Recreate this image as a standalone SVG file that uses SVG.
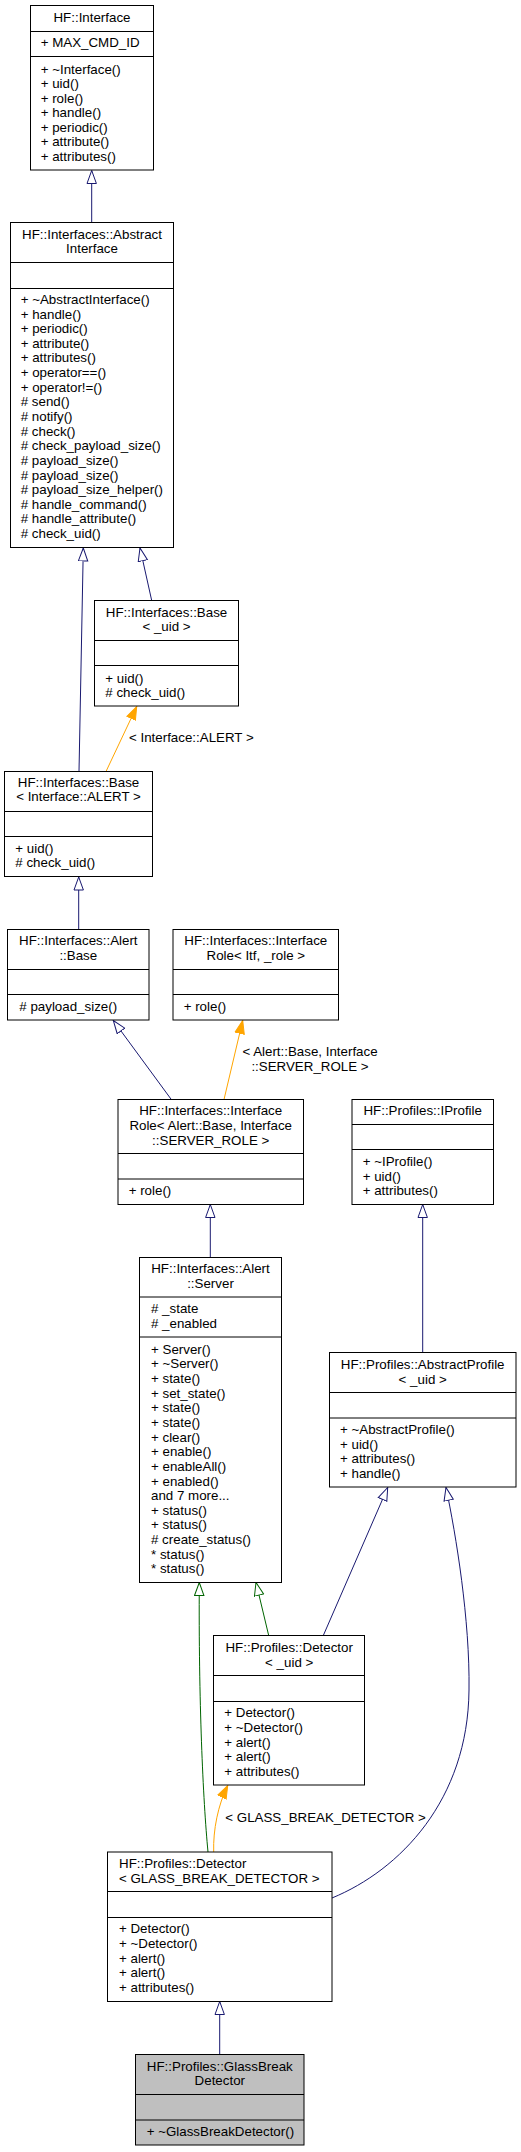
<svg xmlns="http://www.w3.org/2000/svg" width="521" height="2152" viewBox="0 0 521 2152">
<style>
text{font-family:"Liberation Sans",Arial,sans-serif;font-size:13.33px;fill:#000}
.c{text-anchor:middle}
.box{fill:#fff;stroke:#000;stroke-width:1}
.sel{fill:#bfbfbf;stroke:#000;stroke-width:1}
.sep{stroke:#000;stroke-width:1}
.e{fill:none;stroke:#191970;stroke-width:1}
.g{fill:none;stroke:#006400;stroke-width:1}
.o{fill:none;stroke:#ffa500;stroke-width:1}
</style>
<defs>
<marker id="hb" markerWidth="15" markerHeight="12" refX="13.5" refY="5.5" orient="auto" markerUnits="userSpaceOnUse"><path d="M0.5,0.8 L13.5,5.5 L0.5,10.2 Z" fill="#fff" stroke="#191970"/></marker>
<marker id="hg" markerWidth="15" markerHeight="12" refX="13.5" refY="5.5" orient="auto" markerUnits="userSpaceOnUse"><path d="M0.5,0.8 L13.5,5.5 L0.5,10.2 Z" fill="#fff" stroke="#006400"/></marker>
<marker id="fo" markerWidth="15" markerHeight="12" refX="13.5" refY="5.5" orient="auto" markerUnits="userSpaceOnUse"><path d="M0.5,0.8 L13.5,5.5 L0.5,10.2 Z" fill="#ffa500" stroke="#ffa500"/></marker>
</defs>

<g id="connectors">
<path class="e" d="M91.7,222.5 L91.7,170.5" marker-end="url(#hb)"/>
<path class="e" d="M79,771.5 L83.3,548" marker-end="url(#hb)"/>
<path class="e" d="M151.7,600.5 L140,548" marker-end="url(#hb)"/>
<path class="o" d="M106,771.5 L136.7,706.5" marker-end="url(#fo)"/>
<text x="129" y="741.9">&lt; Interface::ALERT &gt;</text>
<path class="e" d="M78.7,929.5 L78.7,877" marker-end="url(#hb)"/>
<path class="e" d="M171.3,1099.5 L113.3,1020.5" marker-end="url(#hb)"/>
<path class="o" d="M224,1099.5 L242.7,1020.5" marker-end="url(#fo)"/>
<text class="c" x="310" y="1056.3">&lt; Alert::Base, Interface</text>
<text class="c" x="310" y="1071.3">::SERVER_ROLE &gt;</text>
<path class="e" d="M210.3,1257.5 L210.3,1204.5" marker-end="url(#hb)"/>
<path class="e" d="M422.7,1352.5 L422.7,1204.5" marker-end="url(#hb)"/>
<path class="g" d="M208,1852 C203,1800 198.5,1700 199.3,1582.5" marker-end="url(#hg)"/>
<path class="g" d="M268.7,1635.5 L256,1582.5" marker-end="url(#hg)"/>
<path class="e" d="M323.3,1635.5 L387.7,1487.5" marker-end="url(#hb)"/>
<path class="e" d="M332,1898 C400,1870 468,1800 469,1690 C470,1620 456,1535 446,1487.5" marker-end="url(#hb)"/>
<path class="o" d="M213.7,1852 C213,1830 218,1805 227.7,1785.5" marker-end="url(#fo)"/>
<text x="225.3" y="1821.9">&lt; GLASS_BREAK_DETECTOR &gt;</text>
<path class="e" d="M219.7,2054.5 L219.7,2001.5" marker-end="url(#hb)"/>
</g>

<g id="Interface">
<rect class="box" x="30.5" y="5.5" width="123" height="164.5"/>
<line class="sep" x1="30.5" y1="31.5" x2="153.5" y2="31.5"/>
<line class="sep" x1="30.5" y1="56.5" x2="153.5" y2="56.5"/>
<text class="c" x="92" y="22">HF::Interface</text>
<text x="40.7" y="47.2">+ MAX_CMD_ID</text>
<text x="40.7" y="73.9">+ ~Interface()</text>
<text x="40.7" y="88.4">+ uid()</text>
<text x="40.7" y="102.9">+ role()</text>
<text x="40.7" y="117.3">+ handle()</text>
<text x="40.7" y="131.8">+ periodic()</text>
<text x="40.7" y="146.2">+ attribute()</text>
<text x="40.7" y="160.6">+ attributes()</text>
</g>

<g id="AbstractInterface">
<rect class="box" x="10.5" y="222.5" width="163" height="325"/>
<line class="sep" x1="10.5" y1="262.5" x2="173.5" y2="262.5"/>
<line class="sep" x1="10.5" y1="288.5" x2="173.5" y2="288.5"/>
<text class="c" x="92" y="238.9">HF::Interfaces::Abstract</text>
<text class="c" x="92" y="252.9">Interface</text>
<text x="20.7" y="303.9">+ ~AbstractInterface()</text>
<text x="20.7" y="318.5">+ handle()</text>
<text x="20.7" y="333.2">+ periodic()</text>
<text x="20.7" y="347.8">+ attribute()</text>
<text x="20.7" y="362.4">+ attributes()</text>
<text x="20.7" y="377.1">+ operator==()</text>
<text x="20.7" y="391.7">+ operator!=()</text>
<text x="20.7" y="406.3"># send()</text>
<text x="20.7" y="420.9"># notify()</text>
<text x="20.7" y="435.6"># check()</text>
<text x="20.7" y="450.2"># check_payload_size()</text>
<text x="20.7" y="464.8"># payload_size()</text>
<text x="20.7" y="479.5"># payload_size()</text>
<text x="20.7" y="494.1"># payload_size_helper()</text>
<text x="20.7" y="508.7"># handle_command()</text>
<text x="20.7" y="523.3"># handle_attribute()</text>
<text x="20.7" y="537.9"># check_uid()</text>
</g>

<g id="BaseUid">
<rect class="box" x="94.5" y="600.5" width="144" height="105.5"/>
<line class="sep" x1="94.5" y1="640.5" x2="238.5" y2="640.5"/>
<line class="sep" x1="94.5" y1="665.5" x2="238.5" y2="665.5"/>
<text class="c" x="166.5" y="617.3">HF::Interfaces::Base</text>
<text class="c" x="166.5" y="631.3">&lt; _uid &gt;</text>
<text x="105.3" y="682.9">+ uid()</text>
<text x="105.3" y="697.3"># check_uid()</text>
</g>

<g id="BaseAlert">
<rect class="box" x="4.5" y="771.5" width="148" height="105"/>
<line class="sep" x1="4.5" y1="811.5" x2="152.5" y2="811.5"/>
<line class="sep" x1="4.5" y1="836.5" x2="152.5" y2="836.5"/>
<text class="c" x="78.5" y="787.3">HF::Interfaces::Base</text>
<text class="c" x="78.5" y="801.3">&lt; Interface::ALERT &gt;</text>
<text x="15.3" y="852.9">+ uid()</text>
<text x="15.3" y="867.3"># check_uid()</text>
</g>

<g id="AlertBase">
<rect class="box" x="7.5" y="929.5" width="141.5" height="90.5"/>
<line class="sep" x1="7.5" y1="969.5" x2="149" y2="969.5"/>
<line class="sep" x1="7.5" y1="994.5" x2="149" y2="994.5"/>
<text class="c" x="78.3" y="944.9">HF::Interfaces::Alert</text>
<text class="c" x="78.3" y="959.9">::Base</text>
<text x="19.3" y="1011.3"># payload_size()</text>
</g>

<g id="InterfaceRoleTpl">
<rect class="box" x="173" y="929.5" width="165.5" height="90.5"/>
<line class="sep" x1="173" y1="969.5" x2="338.5" y2="969.5"/>
<line class="sep" x1="173" y1="994.5" x2="338.5" y2="994.5"/>
<text class="c" x="255.8" y="944.9">HF::Interfaces::Interface</text>
<text class="c" x="255.8" y="959.9">Role&lt; Itf, _role &gt;</text>
<text x="183.7" y="1011.3">+ role()</text>
</g>

<g id="InterfaceRoleAlert">
<rect class="box" x="118" y="1099.5" width="185.5" height="105"/>
<line class="sep" x1="118" y1="1153.5" x2="303.5" y2="1153.5"/>
<line class="sep" x1="118" y1="1179" x2="303.5" y2="1179"/>
<text class="c" x="210.7" y="1115.3">HF::Interfaces::Interface</text>
<text class="c" x="210.7" y="1130.3">Role&lt; Alert::Base, Interface</text>
<text class="c" x="210.7" y="1145.3">::SERVER_ROLE &gt;</text>
<text x="128.7" y="1195.3">+ role()</text>
</g>

<g id="IProfile">
<rect class="box" x="352" y="1099.5" width="141.5" height="105"/>
<line class="sep" x1="352" y1="1124.5" x2="493.5" y2="1124.5"/>
<line class="sep" x1="352" y1="1149.5" x2="493.5" y2="1149.5"/>
<text class="c" x="422.7" y="1115.3">HF::Profiles::IProfile</text>
<text x="362.7" y="1166.3">+ ~IProfile()</text>
<text x="362.7" y="1180.9">+ uid()</text>
<text x="362.7" y="1195.3">+ attributes()</text>
</g>

<g id="Server">
<rect class="box" x="139.5" y="1257.5" width="142" height="325"/>
<line class="sep" x1="139.5" y1="1297" x2="281.5" y2="1297"/>
<line class="sep" x1="139.5" y1="1337" x2="281.5" y2="1337"/>
<text class="c" x="210.5" y="1273.3">HF::Interfaces::Alert</text>
<text class="c" x="210.5" y="1287.9">::Server</text>
<text x="151" y="1313.3"># _state</text>
<text x="151" y="1327.9"># _enabled</text>
<text x="151" y="1353.6">+ Server()</text>
<text x="151" y="1368.3">+ ~Server()</text>
<text x="151" y="1382.9">+ state()</text>
<text x="151" y="1397.6">+ set_state()</text>
<text x="151" y="1412.2">+ state()</text>
<text x="151" y="1426.9">+ state()</text>
<text x="151" y="1441.5">+ clear()</text>
<text x="151" y="1456.2">+ enable()</text>
<text x="151" y="1470.8">+ enableAll()</text>
<text x="151" y="1485.5">+ enabled()</text>
<text x="151" y="1500.1">and 7 more...</text>
<text x="151" y="1514.8">+ status()</text>
<text x="151" y="1529.4">+ status()</text>
<text x="151" y="1544.1"># create_status()</text>
<text x="151" y="1558.7">* status()</text>
<text x="151" y="1573.3">* status()</text>
</g>

<g id="AbstractProfile">
<rect class="box" x="329.5" y="1352.5" width="186.5" height="134.5"/>
<line class="sep" x1="329.5" y1="1392.5" x2="516" y2="1392.5"/>
<line class="sep" x1="329.5" y1="1418" x2="516" y2="1418"/>
<text class="c" x="422.7" y="1368.9">HF::Profiles::AbstractProfile</text>
<text class="c" x="422.7" y="1383.6">&lt; _uid &gt;</text>
<text x="340" y="1433.9">+ ~AbstractProfile()</text>
<text x="340" y="1448.6">+ uid()</text>
<text x="340" y="1463.3">+ attributes()</text>
<text x="340" y="1477.9">+ handle()</text>
</g>

<g id="DetectorUid">
<rect class="box" x="213.5" y="1635.5" width="151" height="149.5"/>
<line class="sep" x1="213.5" y1="1675.5" x2="364.5" y2="1675.5"/>
<line class="sep" x1="213.5" y1="1701.5" x2="364.5" y2="1701.5"/>
<text class="c" x="289.2" y="1652.3">HF::Profiles::Detector</text>
<text class="c" x="289.2" y="1667.3">&lt; _uid &gt;</text>
<text x="224.3" y="1717.3">+ Detector()</text>
<text x="224.3" y="1731.9">+ ~Detector()</text>
<text x="224.3" y="1746.6">+ alert()</text>
<text x="224.3" y="1761.2">+ alert()</text>
<text x="224.3" y="1775.9">+ attributes()</text>
</g>

<g id="DetectorGBD">
<rect class="box" x="107.5" y="1852" width="224.5" height="149.5"/>
<line class="sep" x1="107.5" y1="1891.5" x2="332" y2="1891.5"/>
<line class="sep" x1="107.5" y1="1917.5" x2="332" y2="1917.5"/>
<text x="119" y="1867.9">HF::Profiles::Detector</text>
<text x="119" y="1882.9">&lt; GLASS_BREAK_DETECTOR &gt;</text>
<text x="119" y="1933.3">+ Detector()</text>
<text x="119" y="1947.9">+ ~Detector()</text>
<text x="119" y="1962.5">+ alert()</text>
<text x="119" y="1977.1">+ alert()</text>
<text x="119" y="1991.7">+ attributes()</text>
</g>

<g id="GlassBreakDetector">
<rect class="sel" x="135.5" y="2054.5" width="168.5" height="90.5"/>
<line class="sep" x1="135.5" y1="2094.5" x2="304" y2="2094.5"/>
<line class="sep" x1="135.5" y1="2120" x2="304" y2="2120"/>
<text class="c" x="219.8" y="2071.3">HF::Profiles::GlassBreak</text>
<text class="c" x="219.8" y="2085.3">Detector</text>
<text x="146.7" y="2136.3">+ ~GlassBreakDetector()</text>
</g>
</svg>
